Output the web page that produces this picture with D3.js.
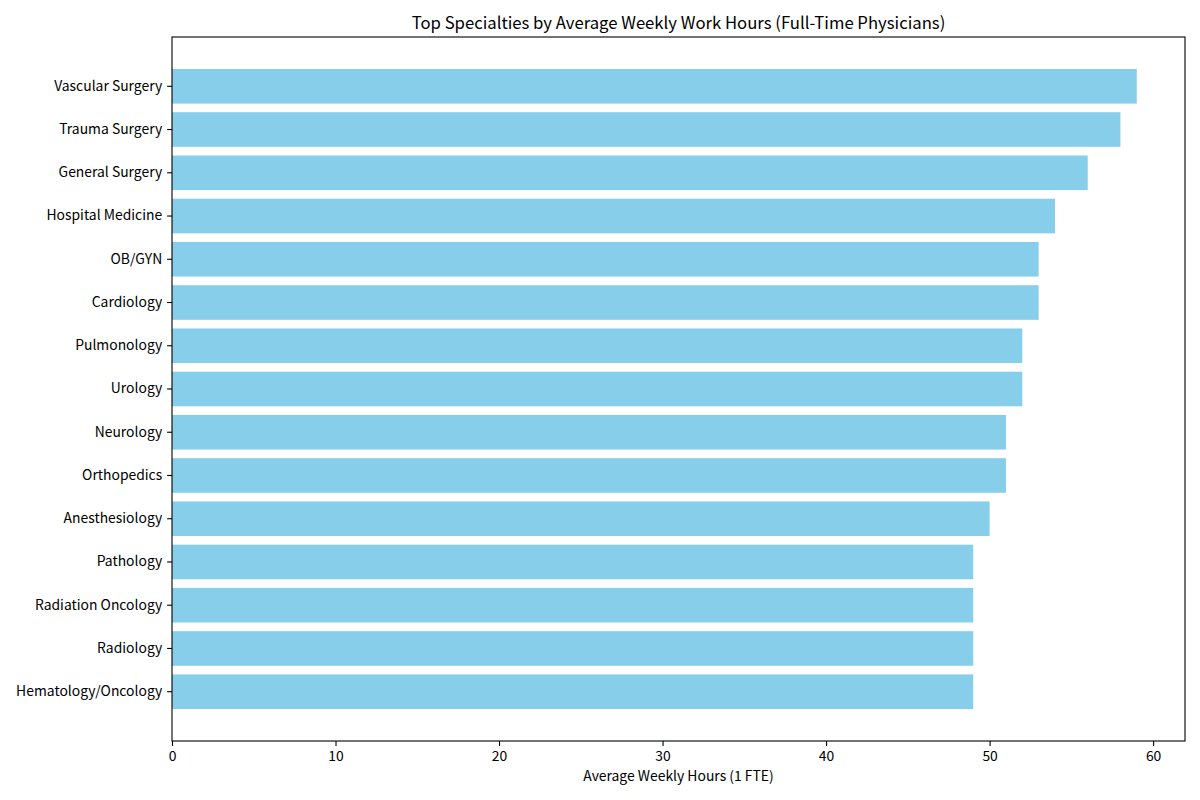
<!DOCTYPE html>
<html>
<head>
<meta charset="utf-8">
<script src="https://cdn.jsdelivr.net/npm/d3@7"></script>
<style>
  body { margin: 0; background: #fff; }
  svg { display: block; font-family: "Noto Sans CJK JP", "Noto Sans", "DejaVu Sans", sans-serif; }
</style>
</head>
<body>
<svg id="chart" width="1200" height="800"></svg>
<script>
// specialties, listed top to bottom as in the chart
const specialties = [
  "Vascular Surgery", "Trauma Surgery", "General Surgery", "Hospital Medicine",
  "OB/GYN", "Cardiology", "Pulmonology", "Urology", "Neurology", "Orthopedics",
  "Anesthesiology", "Pathology", "Radiation Oncology", "Radiology", "Hematology/Oncology"
];
const hours = [59, 58, 56, 54, 53, 53, 52, 52, 51, 51, 50, 49, 49, 49, 49];
const xTicks = [0, 10, 20, 30, 40, 50, 60];

const title = "Top Specialties by Average Weekly Work Hours (Full-Time Physicians)";
const xLabel = "Average Weekly Hours (1 FTE)";

const margin = { top: 37, right: 15, bottom: 59, left: 172 };
const width = 1200, height = 800;
const plotW = width - margin.left - margin.right;
const plotH = height - margin.top - margin.bottom;

const svg = d3.select("#chart");
const g = svg.append("g").attr("transform", `translate(${margin.left},${margin.top})`);

let data = specialties.map(function(d, i) {
  return { name: d, value: hours[i] };
});

// matplotlib-like 5% margin on the right
let x = d3.scaleLinear()
  .domain([0, d3.max(hours) * 1.05])
  .range([0, plotW]);

let y = d3.scaleBand()
  .domain(specialties)
  .range([0, plotH])
  .paddingInner(0.2)
  .paddingOuter(0.74);

g.selectAll("rect.bar")
  .data(data)
  .enter()
  .append("rect")
  .attr("class", "bar")
  .attr("x", x(0))
  .attr("y", function(d) { return y(d.name); })
  .attr("width", function(d) { return x(d.value) - x(0); })
  .attr("height", y.bandwidth())
  .style("fill", "#87ceeb");

// axes
let xAxis = g.append("g")
  .attr("transform", `translate(0,${plotH})`)
  .call(d3.axisBottom(x).tickValues(xTicks).tickSize(4.9).tickPadding(4.9).tickFormat(d3.format("d")));

let yAxis = g.append("g")
  .call(d3.axisLeft(y).tickSize(4.9).tickPadding(4.9));

[xAxis, yAxis].forEach(function(a) {
  a.select(".domain").remove();
  a.selectAll(".tick line").style("stroke", "#000").style("stroke-width", 1.1);
  a.selectAll(".tick text")
    .style("font-family", "'Noto Sans CJK JP', 'Noto Sans', sans-serif")
    .style("font-size", "13.9px")
    .style("fill", "#000");
});

// frame
g.append("rect")
  .attr("x", 0)
  .attr("y", 0)
  .attr("width", plotW)
  .attr("height", plotH)
  .style("fill", "none")
  .style("stroke", "#000")
  .style("stroke-width", 1.1);

svg.append("text")
  .attr("x", margin.left + plotW / 2)
  .attr("y", margin.top - 8.3)
  .attr("text-anchor", "middle")
  .style("font-size", "16.7px")
  .style("fill", "#000")
  .text(title);

svg.append("text")
  .attr("x", margin.left + plotW / 2)
  .attr("y", 781)
  .attr("text-anchor", "middle")
  .style("font-size", "13.9px")
  .style("fill", "#000")
  .text(xLabel);
</script>
</body>
</html>
